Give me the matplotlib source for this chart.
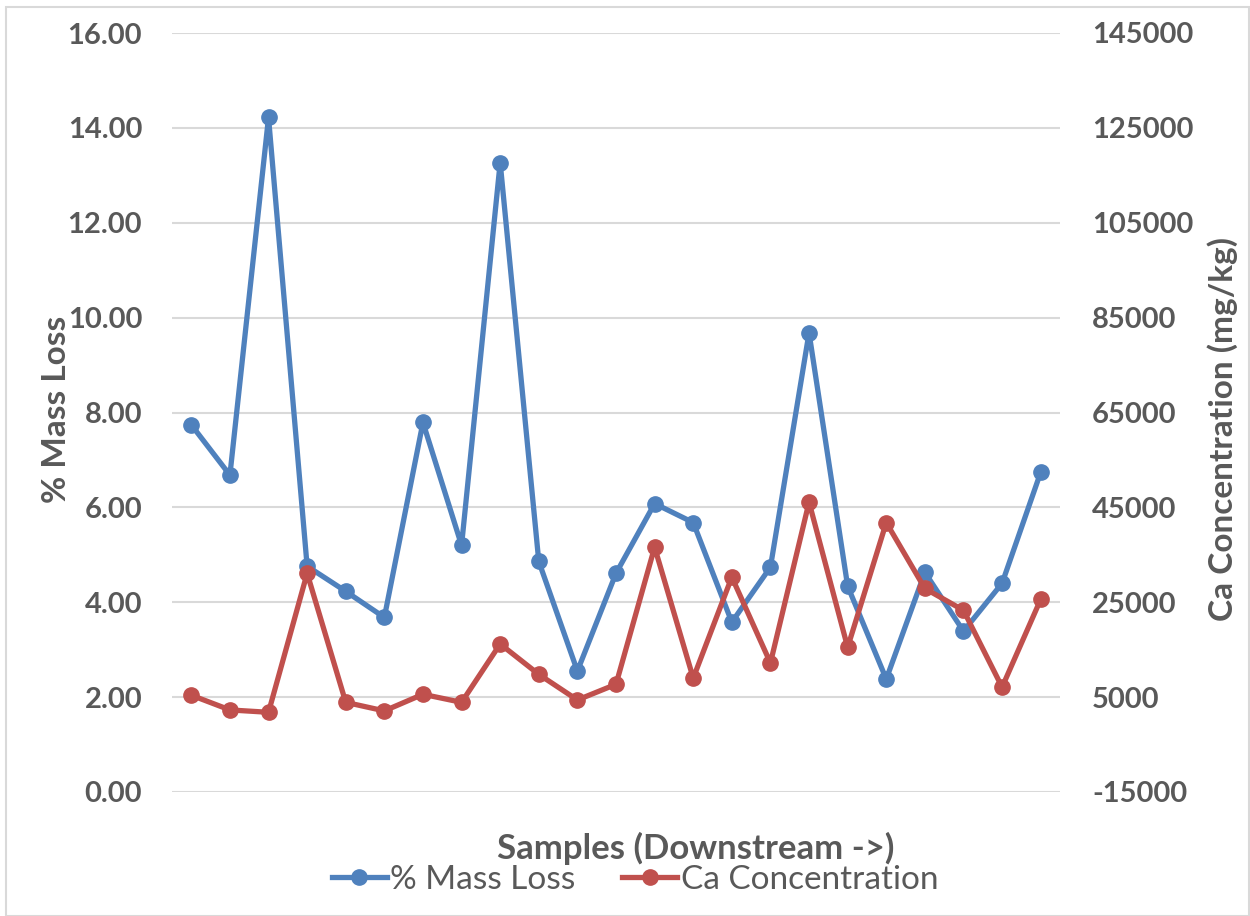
import numpy as np
import matplotlib.pyplot as plt
from matplotlib.patches import Rectangle

# samples along the stream (downstream ->)
samples = np.arange(1, 24)
mass_loss = [7.74, 6.68, 14.22, 4.76, 4.23, 3.68, 7.79, 5.20, 13.27, 4.86, 2.55, 4.61,
             6.08, 5.68, 3.58, 4.74, 9.68, 4.34, 2.38, 4.63, 3.39, 4.40, 6.74]
ca_conc = [5400, 2300, 1800, 31100, 3900, 2100, 5600, 3900, 16200, 9800, 4400, 7700,
           36600, 9000, 30300, 12200, 46100, 15500, 41800, 27900, 23300, 7100, 25600]

left_ticks = np.arange(0, 17, 2)
right_ticks = np.arange(-15000, 145001, 20000)

blue = '#4F81BD'
red = '#C0504D'
txt = '#595959'
grid = '#D9D9D9'

plt.rcParams['font.family'] = ['Lato', 'DejaVu Sans']

fig = plt.figure(figsize=(12.5, 9.16), dpi=100)
ax1 = fig.add_axes([172/1250, 1-792/916, (1060-172)/1250, (792-33)/916])
ax2 = ax1.twinx()

ax1.plot(samples, mass_loss, color=blue, lw=3.8, marker='o', ms=11, label='% Mass Loss')
ax2.plot(samples, ca_conc, color=red, lw=3.8, marker='o', ms=11, label='Ca Concentration')

ax1.set_xlim(0.5, 23.5)
ax1.set_ylim(0, 16)
ax2.set_ylim(-15000, 145000)
ax1.set_yticks(left_ticks)
ax2.set_yticks(right_ticks)
ax1.set_yticklabels(['%.2f' % v for v in left_ticks])
ax2.set_yticklabels(['%d' % v for v in right_ticks])
ax1.set_xticks([])

for ax in (ax1, ax2):
    for s in ax.spines.values():
        s.set_visible(False)
    ax.tick_params(axis='y', length=0, labelsize=21, labelcolor=txt)
    for lbl in ax.get_yticklabels():
        lbl.set_fontweight('bold')
ax1.tick_params(axis='y', pad=21.5)
ax2.tick_params(axis='y', pad=23)

ax1.yaxis.grid(True, color=grid, lw=1.5)
ax1.set_axisbelow(True)

fig.text(57/1250, 1-409/916, '% Mass Loss', rotation=90, ha='center', va='center',
         fontsize=24, fontweight='bold', color=txt)
fig.text(1223/1250, 1-429/916, 'Ca Concentration (mg/kg)', rotation=90, ha='center',
         va='center', fontsize=24, fontweight='bold', color=txt)
fig.text(696/1250, 1-848/916, 'Samples (Downstream ->)', ha='center', va='center',
         fontsize=25, fontweight='bold', color=txt)

h1, l1 = ax1.get_legend_handles_labels()
h2, l2 = ax2.get_legend_handles_labels()
leg = fig.legend(h1 + h2, l1 + l2, loc='center', bbox_to_anchor=(635/1250, 1-880/916),
                 ncol=2, frameon=False, fontsize=24, handlelength=1.65, handletextpad=0.1,
                 columnspacing=1.4)
for t in leg.get_texts():
    t.set_color(txt)

fig.patches.append(Rectangle((6/1250, 0), 1-7/1250, 1-7/916, transform=fig.transFigure,
                             fill=False, edgecolor='#D9D9D9', lw=1.5))

fig.savefig('out.png', dpi=100)
